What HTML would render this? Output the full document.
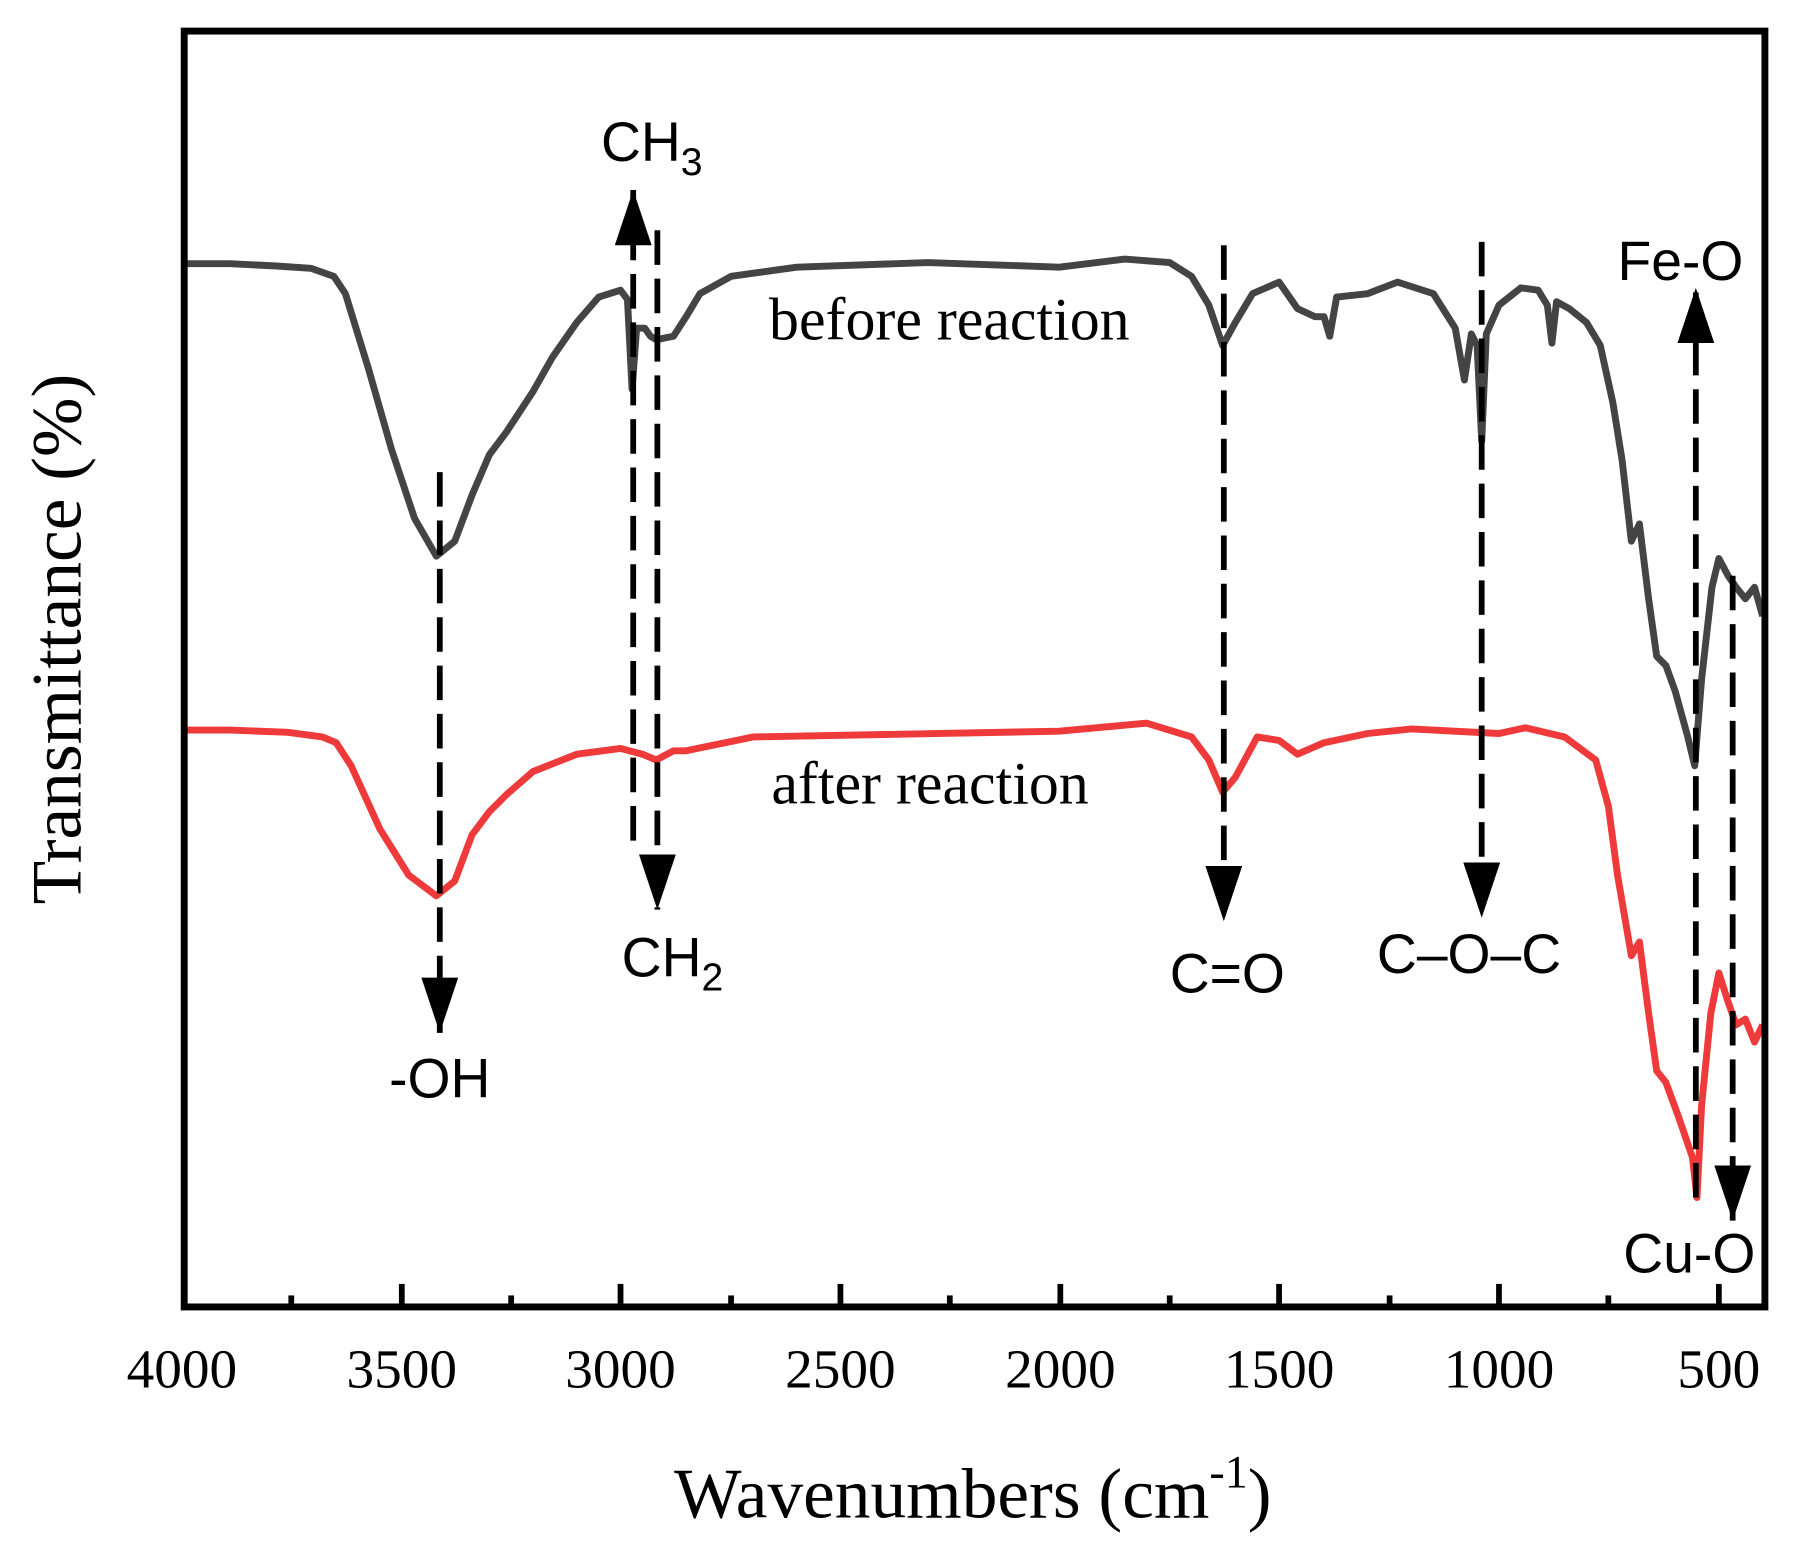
<!DOCTYPE html>
<html><head><style>html,body{margin:0;padding:0;background:#fff}svg{display:block}</style></head>
<body>
<svg width="1796" height="1543" viewBox="0 0 1560 1340" preserveAspectRatio="none" xmlns="http://www.w3.org/2000/svg">
<defs>
<marker id="ah" viewBox="0 0 10 10" refX="10" refY="5" markerWidth="9.6" markerHeight="6.4" preserveAspectRatio="none" orient="auto" markerUnits="strokeWidth"><path d="M0,0L10,5L0,10z" fill="#000"/></marker>
</defs>
<g fill="none" stroke-linejoin="round" stroke-width="6">
<polyline stroke="#444" points="158,229 200,229 240,231 270,233 290,240 300,255 320,320 340,390 360,450 379,483 395,470 410,430 425,395 440,375 463,340 480,310 501,280 520,258 539,252 545,260 549,338 553,285 560,285 565,292 570,295 585,292 596,275 608,255 635,240 692,232 806,228 920,232 977,225 1016,228 1035,240 1050,265 1062,300 1073,280 1088,255 1111,245 1127,268 1142,275 1150,275 1155,292 1161,258 1188,255 1214,245 1245,255 1264,285 1272,330 1278,290 1283,300 1287,383 1291,290 1302,265 1321,250 1336,252 1344,265 1348,298 1352,262 1363,268 1378,280 1390,300 1401,350 1409,400 1417,470 1424,455 1432,520 1439,570 1447,578 1455,600 1466,640 1472,665 1478,590 1487,510 1493,485 1501,500 1508,510 1516,520 1524,510 1531,535"/>
<polyline stroke="#ee3a3a" points="158,634 200,634 250,636 280,640 292,645 305,665 330,720 355,760 379,778 395,765 410,725 425,705 440,690 463,670 501,655 539,650 558,655 570,660 585,652 596,652 654,640 920,635 996,628 1035,640 1050,660 1062,688 1073,675 1092,640 1111,643 1127,655 1150,645 1188,637 1226,633 1302,637 1325,632 1359,640 1386,660 1397,700 1405,760 1417,830 1424,818 1432,880 1439,930 1447,940 1458,970 1470,1005 1474,1040 1478,960 1486,880 1493,845 1501,870 1508,890 1516,885 1524,905 1531,890"/>
</g>
<g stroke="#000" stroke-width="5" stroke-dasharray="30,12" fill="none" marker-end="url(#ah)">
<line x1="382" y1="410" x2="382" y2="897"/>
<line x1="550" y1="730" x2="550" y2="165"/>
<line x1="571" y1="200" x2="571" y2="790"/>
<line x1="1063" y1="213" x2="1063" y2="800"/>
<line x1="1287" y1="210" x2="1287" y2="797"/>
<line x1="1473" y1="1040" x2="1473" y2="250"/>
<line x1="1505" y1="500" x2="1505" y2="1060"/>
</g>
<g font-family="Liberation Sans, Arial, sans-serif" font-size="48" fill="#000">
<text x="522" y="140">CH<tspan font-size="34" dy="12">3</tspan></text>
<text x="540" y="848">CH<tspan font-size="34" dy="12">2</tspan></text>
<text x="338" y="953">-OH</text>
<text x="1016" y="862">C=O</text>
<text x="1196" y="845">C–O–C</text>
<text x="1405" y="243">Fe-O</text>
<text x="1410" y="1105">Cu-O</text>
</g>
<g font-family="Liberation Serif, Times New Roman, serif" fill="#000">
<text x="668" y="295" font-size="52">before reaction</text>
<text x="670" y="698" font-size="52">after reaction</text>
<g font-size="48" text-anchor="middle">
<text x="158" y="1205">4000</text><text x="349" y="1205">3500</text><text x="539" y="1205">3000</text><text x="730" y="1205">2500</text><text x="921" y="1205">2000</text><text x="1111" y="1205">1500</text><text x="1302" y="1205">1000</text><text x="1493" y="1205">500</text>
</g>
<text x="845" y="1318" font-size="62" text-anchor="middle">Wavenumbers (cm<tspan font-size="40" dy="-26">-1</tspan><tspan dy="26">)</tspan></text>
<text transform="translate(70,555) rotate(-90)" font-size="62" text-anchor="middle">Transmittance (%)</text>
</g>
<rect x="160" y="27" width="1373" height="1108" fill="none" stroke="#000" stroke-width="6"/>
<g stroke="#000" stroke-width="5">
<line x1="349" y1="1135" x2="349" y2="1115"/><line x1="539" y1="1135" x2="539" y2="1115"/><line x1="730" y1="1135" x2="730" y2="1115"/><line x1="921" y1="1135" x2="921" y2="1115"/><line x1="1111" y1="1135" x2="1111" y2="1115"/><line x1="1302" y1="1135" x2="1302" y2="1115"/><line x1="1493" y1="1135" x2="1493" y2="1115"/>
<line x1="253" y1="1135" x2="253" y2="1125"/><line x1="444" y1="1135" x2="444" y2="1125"/><line x1="635" y1="1135" x2="635" y2="1125"/><line x1="825" y1="1135" x2="825" y2="1125"/><line x1="1016" y1="1135" x2="1016" y2="1125"/><line x1="1207" y1="1135" x2="1207" y2="1125"/><line x1="1397" y1="1135" x2="1397" y2="1125"/>
</g>
</svg>
</body></html>
